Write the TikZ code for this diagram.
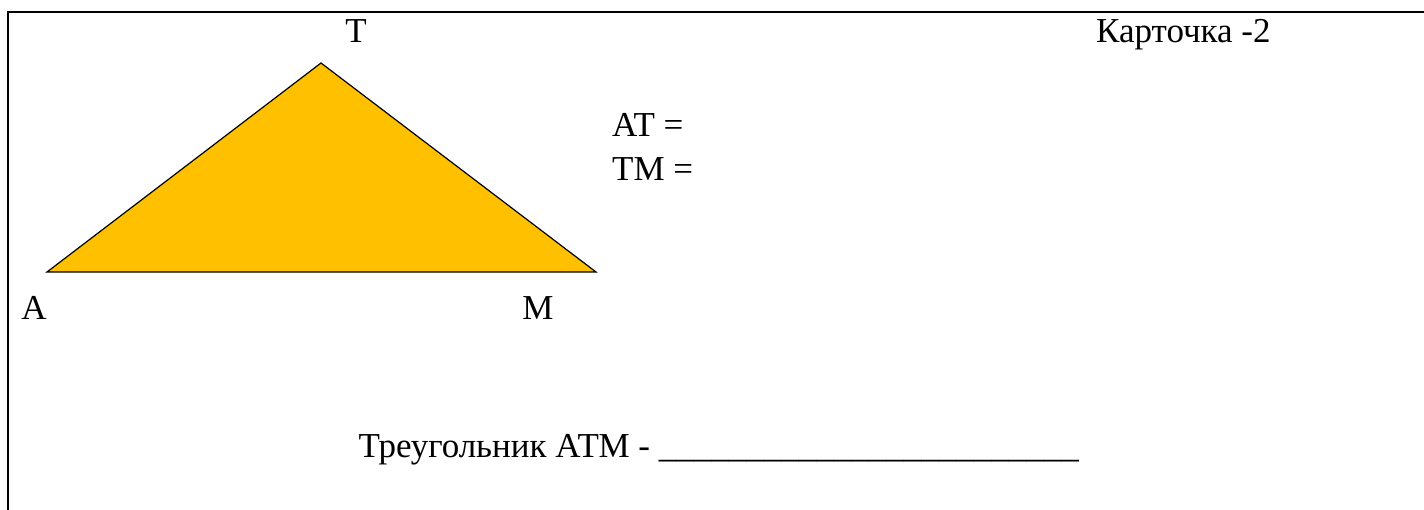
\documentclass[tikz,border=0pt]{standalone}
\usepackage{fontspec}
\setmainfont{Liberation Serif}
\definecolor{trifill}{HTML}{FFC000}
\tikzset{
  lbl/.style={anchor=base,inner sep=0pt,font=\fontsize{35}{42}\selectfont},
  lblw/.style={lbl,anchor=base west},
  frame/.style={line width=2pt}
}
\begin{document}
\begin{tikzpicture}[x=1pt,y=-1pt]
    \useasboundingbox (0,0) rectangle (1424,510);
    \draw[frame] (1424,12.3) -- (7.7,12.3) -- (7.7,510);
    \coordinate (vA) at (47,272);
    \coordinate (vT) at (321,63);
    \coordinate (vM) at (596,272);
    \filldraw[fill=trifill,draw=black,line width=1.2pt] (vA) -- (vT) -- (vM) -- cycle;
    \node[lbl] (labT) at (356,43) {T};
    \node[lbl] (labA) at (34,320) {A};
    \node[lbl] (labM) at (538,320) {M};
    \node[lblw] (at) at (612,137) {AT =};
    \node[lblw] (tm) at (612,181) {TM =};
    \node[lblw] (card) at (1096,43) {Карточка -2};
    \node[lbl,anchor=base east] (task) at (1079,457)
        {Треугольник АТМ - \_\_\_\_\_\_\_\_\_\_\_\_\_\_\_\_\_\_\_\_\_\_\_\_};
\end{tikzpicture}
\end{document}
